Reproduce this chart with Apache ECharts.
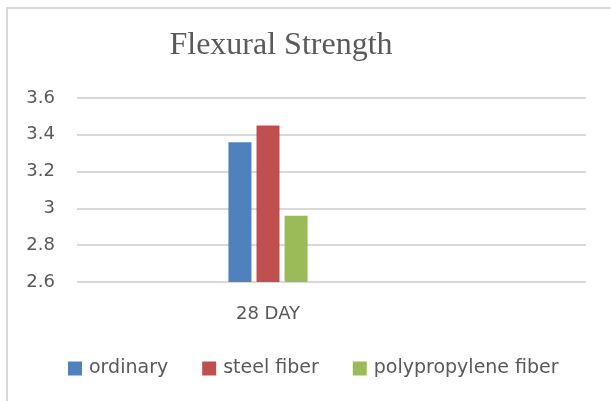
<!DOCTYPE html>
<html>
<head>
<meta charset="utf-8">
<script src="https://cdn.jsdelivr.net/npm/echarts@6/dist/echarts.min.js"></script>
<style>
  html, body { margin: 0; padding: 0; background: #ffffff; }
  #chart { width: 611px; height: 401px; }
</style>
</head>
<body>
<div id="chart"></div>
<script>
var titleText = 'Flexural Strength';
var categories = ['28 DAY'];
var seriesNames = ['ordinary', 'steel fiber', 'polypropylene fiber'];
var ordinary = [3.36];
var steelFiber = [3.45];
var polypropyleneFiber = [2.96];
var yMin = 2.6, yMax = 3.6, yInterval = 0.2;
var colors = ['#4F81BD', '#C0504D', '#9BBB59'];

var chart = echarts.init(document.getElementById('chart'), null, { renderer: 'canvas' });
var textColor = '#595959';
var sansFont = 'DejaVu Sans';

var option = {
  animation: false,
  backgroundColor: '#ffffff',
  color: colors,
  title: {
    text: titleText,
    left: 276,
    textAlign: 'center',
    top: 25,
    textStyle: { fontFamily: 'Liberation Serif', fontSize: 32, fontWeight: 'normal', color: textColor }
  },
  graphic: [{
    type: 'polyline',
    shape: { points: [[7, 420], [7, 8], [640, 8]] },
    style: { fill: null, stroke: '#d9d9d9', lineWidth: 2 },
    silent: true, z: -1
  }],
  legend: {
    left: 63,
    top: 354,
    itemWidth: 14,
    itemHeight: 14,
    itemGap: 34,
    icon: 'rect',
    data: seriesNames,
    textStyle: { fontFamily: sansFont, fontSize: 19, color: textColor, padding: [0, 0, 0, 2] }
  },
  grid: [
    { left: 77, right: 25, top: 98, height: 184, containLabel: false },
    { left: 77, width: 382, top: 98, height: 184, containLabel: false }
  ],
  xAxis: [
    { type: 'category', gridIndex: 0, data: categories, show: false },
    {
      type: 'category', gridIndex: 1, data: categories,
      axisLine: { show: false }, axisTick: { show: false },
      axisLabel: { margin: 23, fontFamily: sansFont, fontSize: 18, color: textColor }
    }
  ],
  yAxis: [
    {
      type: 'value', gridIndex: 0, min: yMin, max: yMax, interval: yInterval,
      axisLine: { show: false }, axisTick: { show: false },
      splitLine: { show: true, lineStyle: { color: '#d9d9d9', width: 2 } },
      axisLabel: {
        margin: 22, fontFamily: sansFont, fontSize: 18, color: textColor,
        formatter: function (v) { return String(Math.round(v * 10) / 10); }
      }
    },
    { type: 'value', gridIndex: 1, min: yMin, max: yMax, interval: yInterval, show: false }
  ],
  series: [
    { name: seriesNames[0], type: 'bar', xAxisIndex: 1, yAxisIndex: 1, data: ordinary, barWidth: 23, barGap: '22%' },
    { name: seriesNames[1], type: 'bar', xAxisIndex: 1, yAxisIndex: 1, data: steelFiber, barWidth: 23, barGap: '22%' },
    { name: seriesNames[2], type: 'bar', xAxisIndex: 1, yAxisIndex: 1, data: polypropyleneFiber, barWidth: 23, barGap: '22%' }
  ]
};
chart.setOption(option);
</script>
</body>
</html>
